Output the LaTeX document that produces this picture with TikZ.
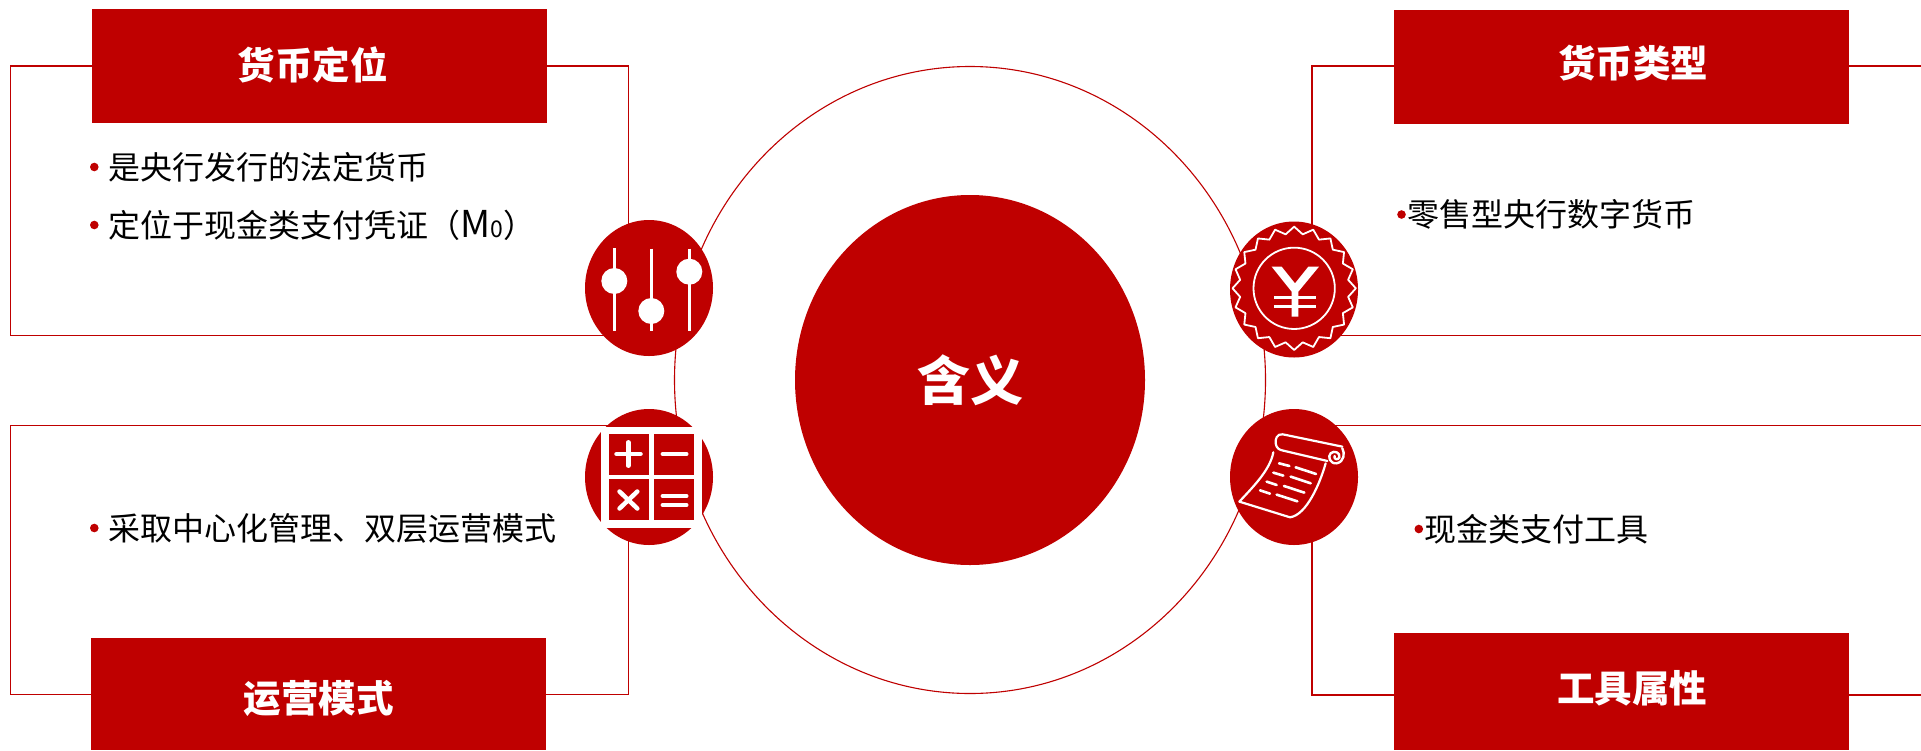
\documentclass[tikz,border=0pt]{standalone}
\usepackage{fontspec}
\setmainfont{Noto Sans CJK SC}
\definecolor{cred}{RGB}{191,0,0}
\usetikzlibrary{shapes.geometric,calc}
\tikzset{
  frameline/.style={draw=cred,line width=1.1pt},
  titlebox/.style={draw=none,fill=cred,rectangle,inner sep=0pt,minimum width=455pt,minimum height=114pt},
  titletext/.style={text=white,inner sep=0pt,font=\fontsize{37.5}{40}\selectfont\bfseries},
  bodytext/.style={anchor=west,inner sep=0pt,text=black,font=\fontsize{32}{38}\selectfont},
  bulletdot/.style={draw=none,fill=cred,circle,inner sep=0pt,minimum size=8.6pt},
  iconball/.style={draw=none,fill=cred,ellipse,inner sep=0pt,minimum width=128pt,minimum height=136pt},
  iconline/.style={draw=white,line width=1.8pt,line cap=round,line join=round},
  iconbar/.style={draw=white,line width=4.5pt,line cap=round},
  iconthin/.style={draw=white,line width=2.6pt},
  knob/.style={draw=none,fill=white,circle,inner sep=0pt,minimum size=26pt}
}
\begin{document}
\begin{tikzpicture}[x=1pt,y=-1pt]
\useasboundingbox (0,0) rectangle (1921,750);
\fill[white] (0,0) rectangle (1921,750);
% ring
\node[ellipse,draw=cred,line width=1.1pt,inner sep=0pt,minimum width=591pt,minimum height=627pt] (ring) at (970,380) {};
% frames
\coordinate (ltA) at (10.6,66);   \coordinate (ltB) at (628.5,335.5);
\coordinate (lbA) at (10.6,425.3); \coordinate (lbB) at (628.5,694.6);
\coordinate (rtA) at (1921,66);   \coordinate (rtB) at (1312,66);
\coordinate (rtC) at (1312,335.5); \coordinate (rtD) at (1921,335.5);
\coordinate (rbA) at (1921,425.3); \coordinate (rbB) at (1312,425.3);
\coordinate (rbC) at (1312,695);  \coordinate (rbD) at (1921,695);
\draw[frameline] (ltA) rectangle (ltB);
\draw[frameline] (lbA) rectangle (lbB);
\draw[frameline] (rtA) -- (rtB) -- (rtC) -- (rtD);
\draw[frameline] (rbA) -- (rbB) -- (rbC) -- (rbD);
% centre
\node[ellipse,fill=cred,draw=none,inner sep=0pt,minimum width=350pt,minimum height=370pt] (core) at (970,380) {};
\node[text=white,inner sep=0pt,font=\fontsize{53}{56}\selectfont\bfseries] (coretext) at (970,380) {含义};
% title boxes
\node[titlebox] (boxlt) at (319.5,66) {};
\node[titlebox,minimum height=112pt] (boxlb) at (318.5,694) {};
\node[titlebox] (boxrt) at (1621.5,67) {};
\node[titlebox,minimum height=117pt] (boxrb) at (1621.5,691.5) {};
\node[titletext] (tlt) at (312.5,64.5) {货币定位};
\node[titletext] (tlb) at (318.5,698) {运营模式};
\node[titletext] (trt) at (1633,63.5) {货币类型};
\node[titletext] (trb) at (1632,688) {工具属性};
% body
\node[bulletdot] (d1) at (94.3,167) {};
\node[bulletdot] (d2) at (94.3,225) {};
\node[bulletdot] (d3) at (94.3,528) {};
\node[bulletdot] (d4) at (1401.5,214.5) {};
\node[bulletdot] (d5) at (1418.8,529) {};
\node[bodytext] (b1) at (108,167) {是央行发行的法定货币};
\node[bodytext] (b2) at (108,225) {定位于现金类支付凭证（{\fontsize{37}{38}\selectfont M}{\fontsize{23}{23}\selectfont 0}）};
\node[bodytext] (b3) at (108,528) {采取中心化管理、双层运营模式};
\node[bodytext] (b4) at (1407,214.5) {零售型央行数字货币};
\node[bodytext] (b5) at (1424,529) {现金类支付工具};
% icon discs
\node[iconball] (ic1) at (649,288) {};
\node[iconball] (ic2) at (649,477) {};
\node[iconball] (ic3) at (1294,289.5) {};
\node[iconball] (ic4) at (1294,477) {};
% sliders
\draw[iconthin] (614.3,248.3) -- (614.3,330.7);
\draw[iconthin] (651.3,248.7) -- (651.3,331);
\draw[iconthin] (689.3,248.7) -- (689.3,331);
\node[knob] (k1) at (614.3,281) {};
\node[knob] (k2) at (651.3,311) {};
\node[knob] (k3) at (689.3,271.7) {};
% calculator
\fill[white] (601,426.7) rectangle (702.3,528);
\fill[cred] (609,434.3) rectangle (649.3,475);
\fill[cred] (654,434.3) rectangle (694.3,475);
\fill[cred] (609,479.3) rectangle (649.3,520);
\fill[cred] (654,479.3) rectangle (694.3,520);
\draw[iconbar] (616.5,454) -- (640.5,454);
\draw[iconbar] (628.3,442.3) -- (628.3,465.7);
\draw[iconbar] (662.8,454) -- (686.3,454);
\draw[iconbar] (619.5,491.5) -- (637.3,508.5);
\draw[iconbar] (637.3,491.5) -- (619.5,508.5);
\draw[iconbar] (662.8,496) -- (686.3,496);
\draw[iconbar] (662.8,505) -- (686.3,505);
% yen seal
\begin{scope}[shift={(1210,200)},x=0.3333pt,y=-0.3333pt]
\draw[iconline] plot[samples at={0,9,...,360}] ({252.5+(mod(\x,18)<1 ? 185 : 164)*sin(\x)},{265-(mod(\x,18)<1 ? 185 : 164)*cos(\x)}) -- cycle;
\draw[white,line width=1.8pt] (252.5,265) circle[radius=122];
\fill[white] (185,200) -- (215,200) -- (255,250) -- (295,200) -- (327,200) -- (265,275) -- (265,350) -- (245,350) -- (245,275) -- cycle;
\fill[white] (193,287) rectangle (317,297);
\fill[white] (193,315) rectangle (317,325);
\end{scope}
% scroll
\begin{scope}[shift={(1210,200)},x=0.3333pt,y=-0.3333pt]
\draw[iconline,line width=2.2pt] (397,740) -- (218,703) .. controls (200,700) and (195,720) .. (197,730) .. controls (199,745) and (208,750) .. (220,752) -- (352,783);
\draw[iconline,line width=2.4pt] (397,745) .. controls (405,760) and (403,785) .. (380,790) .. controls (360,792) and (352,770) .. (362,760) .. controls (372,750) and (392,758) .. (388,772) .. controls (384,782) and (370,778) .. (374,768);
\draw[iconline,line width=2.2pt] (190,757) .. controls (180,810) and (130,860) .. (88,905) -- (240,952) .. controls (290,945) and (330,850) .. (347,790);
\foreach \a/\b/\c/\d in {207/790/238/798,257/802/318/822,190/818/220/827,242/830/302/850,170/845/200/855,222/858/283/878,150/871/180/881,200/884/262/904}
  \draw[iconline,line width=2.6pt] (\a,\b) -- (\c,\d);
\end{scope}
\end{tikzpicture}
\end{document}
